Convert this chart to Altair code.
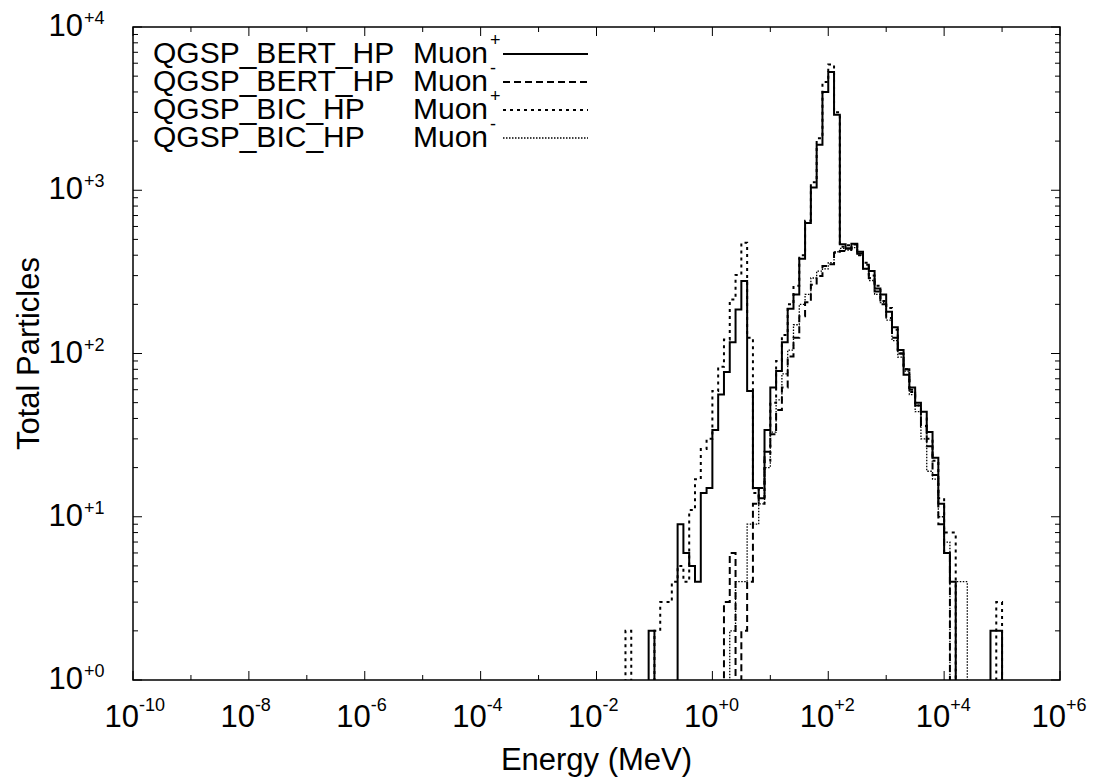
import altair as alt
import pandas as pd

# ---------------- data ----------------
# log10(E/MeV) of the first bin's lower edge; bins are 0.1 decade wide
BERT_PLUS_START = -1.1
BERT_PLUS = [2, 0, 0, 0, 0, 9, 6, 5, 4, 14, 15, 34, 56, 77, 117, 186, 278, 59, 15, 13,
             34, 62, 78, 117, 188, 230, 381, 630, 1040, 1900, 4000, 5300, 2900, 467, 440,
             470, 420, 330, 320, 250, 230, 180, 145, 105, 74, 62, 50, 44, 33, 23, 12, 6, 4,
             0, 0, 0, 0, 0, 0, 2, 2]

BERT_MINUS_START = 0.2
BERT_MINUS = [3, 6, 0, 2, 4, 12, 15, 25, 32, 45, 62, 96, 125, 169, 206, 264, 298, 344, 352,
              414, 424, 440, 466, 410, 350, 290, 240, 200, 165, 125, 100, 80, 60, 48, 36, 27,
              18, 9, 6]

BIC_PLUS_START = -1.5
BIC_PLUS = [2, 0, 0, 0, 0, 2, 3, 3, 4, 5, 4, 11, 17, 26, 30, 59, 83, 122, 214, 303, 477, 125,
            14, 12, 22, 50, 90, 130, 200, 260, 400, 650, 1120, 2080, 4600, 5900, 3000, 450,
            460, 430, 400, 360, 300, 260, 210, 190, 140, 100, 80, 58, 48, 40, 30, 22, 13, 8,
            8, 0, 0, 0, 0, 0, 0, 0, 3]

BIC_MINUS_START = 0.3
BIC_MINUS = [2, 4, 4, 9, 9, 12, 20, 33, 52, 75, 105, 150, 200, 230, 290, 320, 330, 360, 420,
             440, 430, 445, 400, 330, 280, 230, 205, 160, 120, 95, 78, 56, 44, 30, 19, 17, 10,
             7, 0, 4, 4]

LEGEND_MODELS = ["QGSP_BERT_HP", "QGSP_BERT_HP", "QGSP_BIC_HP", "QGSP_BIC_HP"]
LEGEND_SIGNS = ["+", "-", "+", "-"]

X_LABEL_EXPS = [-10, -8, -6, -4, -2, 0, 2, 4, 6]
X_MINOR_EXPS = [-9, -7, -5, -3, -1, 1, 3, 5]
Y_LABEL_EXPS = [0, 1, 2, 3, 4]
Y_MINOR_MULT = [2, 3, 4, 5, 6, 7, 8, 9]

X_TITLE = "Energy (MeV)"
Y_TITLE = "Total Particles"

# ---------------- layout / style ----------------
W, H = 927, 653
FONT = "Liberation Sans"
FS = 31
FS_SUP = 18
FLOOR = 0.1  # empty bins drop below the axis (clipped)

xs = alt.Scale(type="log", domain=[1e-10, 1e6], nice=False)
ys = alt.Scale(type="log", domain=[1, 1e4], nice=False)


def steps(start, counts):
    k0 = round(start * 10)
    rows = [(10 ** (k0 / 10), FLOOR)]
    for i, c in enumerate(counts):
        v = c if c > 0 else FLOOR
        rows.append((10 ** ((k0 + i) / 10), v))
        rows.append((10 ** ((k0 + i + 1) / 10), v))
    rows.append((10 ** ((k0 + len(counts)) / 10), FLOOR))
    return pd.DataFrame({"E": [r[0] for r in rows], "N": [r[1] for r in rows],
                         "i": list(range(len(rows)))})


series = [
    (BERT_PLUS_START, BERT_PLUS, None, 2.0),
    (BERT_MINUS_START, BERT_MINUS, [7, 4], 2.0),
    (BIC_PLUS_START, BIC_PLUS, [3, 4], 2.0),
    (BIC_MINUS_START, BIC_MINUS, [1.5, 1.5], 1.3),
]

layers = []
for start, counts, dash, sw in series:
    kw = dict(color="black", strokeWidth=sw, clip=True, interpolate="linear")
    if dash:
        kw["strokeDash"] = dash
    layers.append(
        alt.Chart(steps(start, counts)).mark_line(**kw).encode(
            x=alt.X("E:Q", scale=xs, axis=None),
            y=alt.Y("N:Q", scale=ys, axis=None),
            order="i:Q",
        )
    )

# ---------------- ticks (inward, mirrored) ----------------
xmaj = pd.DataFrame({"E": [10.0 ** e for e in X_LABEL_EXPS],
                     "sup": [f"{e:+d}" for e in X_LABEL_EXPS], "base": "10"})
xmin = pd.DataFrame({"E": [10.0 ** e for e in X_MINOR_EXPS]})
ymaj = pd.DataFrame({"N": [10.0 ** e for e in Y_LABEL_EXPS],
                     "sup": [f"{e:+d}" for e in Y_LABEL_EXPS], "base": "10"})
ymin = pd.DataFrame({"N": [m * 10.0 ** e for e in Y_LABEL_EXPS[:-1] for m in Y_MINOR_MULT]})

for df, ln in ((xmaj, 9), (xmin, 5)):
    for y0, y1 in ((H, H - ln), (0, ln)):
        layers.append(alt.Chart(df).mark_rule(color="black", strokeWidth=1).encode(
            x=alt.X("E:Q", scale=xs, axis=None), y=alt.value(y0), y2=alt.value(y1)))
for df, ln in ((ymaj, 9), (ymin, 5)):
    for x0, x1 in ((0, ln), (W, W - ln)):
        layers.append(alt.Chart(df).mark_rule(color="black", strokeWidth=1).encode(
            y=alt.Y("N:Q", scale=ys, axis=None), x=alt.value(x0), x2=alt.value(x1)))

# ---------------- tick labels ----------------
layers.append(alt.Chart(xmaj).mark_text(font=FONT, fontSize=FS, align="right",
                                        baseline="alphabetic", dx=6).encode(
    x=alt.X("E:Q", scale=xs, axis=None), y=alt.value(H + 47), text="base:N"))
layers.append(alt.Chart(xmaj).mark_text(font=FONT, fontSize=FS_SUP, align="left",
                                        baseline="alphabetic", dx=6).encode(
    x=alt.X("E:Q", scale=xs, axis=None), y=alt.value(H + 31), text="sup:N"))
layers.append(alt.Chart(ymaj).mark_text(font=FONT, fontSize=FS, align="right",
                                        baseline="middle").encode(
    y=alt.Y("N:Q", scale=ys, axis=None), x=alt.value(-50), text="base:N"))
layers.append(alt.Chart(ymaj).mark_text(font=FONT, fontSize=FS_SUP, align="left",
                                        baseline="alphabetic", dy=-3).encode(
    y=alt.Y("N:Q", scale=ys, axis=None), x=alt.value(-49), text="sup:N"))

# ---------------- axis titles ----------------
titles = pd.DataFrame({"t": [X_TITLE]})
layers.append(alt.Chart(titles).mark_text(font=FONT, fontSize=FS, align="center",
                                          baseline="middle").encode(
    x=alt.value(W / 2), y=alt.value(H + 81), text="t:N"))
ytitles = pd.DataFrame({"t": [Y_TITLE]})
layers.append(alt.Chart(ytitles).mark_text(font=FONT, fontSize=FS, align="center",
                                           baseline="middle", angle=270).encode(
    x=alt.value(-103), y=alt.value(H / 2), text="t:N"))

# ---------------- legend ----------------
for r in range(4):
    yc = 27 + 28 * r
    _, _, dash, sw = series[r]
    ldf = pd.DataFrame({"model": [LEGEND_MODELS[r]], "muon": ["Muon"],
                        "sign": [LEGEND_SIGNS[r]]})
    base = alt.Chart(ldf)
    layers.append(base.mark_text(font=FONT, fontSize=FS - 1, align="left",
                                 baseline="middle").encode(
        x=alt.value(20), y=alt.value(yc), text="model:N"))
    layers.append(base.mark_text(font=FONT, fontSize=FS - 1, align="left",
                                 baseline="middle").encode(
        x=alt.value(280), y=alt.value(yc), text="muon:N"))
    layers.append(base.mark_text(font=FONT, fontSize=FS_SUP, align="left",
                                 baseline="alphabetic").encode(
        x=alt.value(357), y=alt.value(yc - 8), text="sign:N"))
    kw = dict(color="black", strokeWidth=sw)
    if dash:
        kw["strokeDash"] = dash
    layers.append(base.mark_rule(**kw).encode(
        x=alt.value(370), x2=alt.value(455), y=alt.value(yc)))

chart = alt.layer(*layers).properties(
    width=W, height=H,
    autosize=alt.AutoSizeParams(type="none"),
    padding={"left": 133, "top": 27, "right": 36, "bottom": 98},
    background="white",
).configure_view(stroke="black", strokeWidth=1.5)

chart.save("out.html", embed_options={"renderer": "svg", "actions": False})
